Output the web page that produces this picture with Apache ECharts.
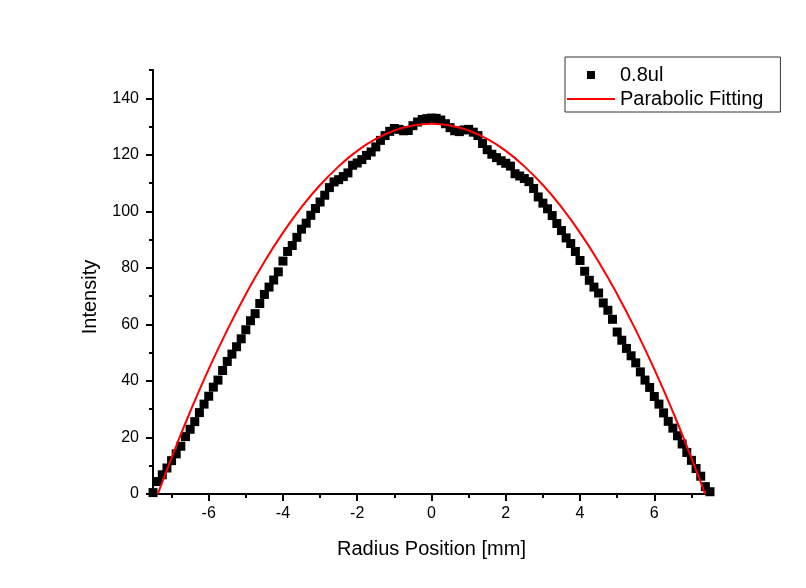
<!DOCTYPE html>
<html>
<head>
<meta charset="utf-8">
<script src="https://cdn.jsdelivr.net/npm/echarts@6/dist/echarts.min.js"></script>
<style>
  html, body { margin: 0; padding: 0; background: #fff; }
  #main { width: 806px; height: 588px; }
</style>
</head>
<body>
<div id="main"></div>
<script>
// radius position [mm] of each measured point
var radius = [-7.5,-7.375,-7.25,-7.125,-7,-6.875,-6.75,-6.625,-6.5,-6.375,-6.25,-6.125,-6,-5.875,-5.75,-5.625,-5.5,-5.375,-5.25,-5.125,
  -5,-4.875,-4.75,-4.625,-4.5,-4.375,-4.25,-4.125,-4,-3.875,-3.75,-3.625,-3.5,-3.375,-3.25,-3.125,-3,-2.875,-2.75,-2.625,
  -2.5,-2.375,-2.25,-2.125,-2,-1.875,-1.75,-1.625,-1.5,-1.375,-1.25,-1.125,-1,-0.875,-0.75,-0.625,-0.5,-0.375,-0.25,-0.125,
  0,
  0.125,0.25,0.375,0.5,0.625,0.75,0.875,1,1.125,1.25,1.375,1.5,1.625,1.75,1.875,2,2.125,2.25,2.375,2.5,
  2.625,2.75,2.875,3,3.125,3.25,3.375,3.5,3.625,3.75,3.875,4,4.125,4.25,4.375,4.5,4.625,4.75,4.875,5,
  5.125,5.25,5.375,5.5,5.625,5.75,5.875,6,6.125,6.25,6.375,6.5,6.625,6.75,6.875,7,7.125,7.25,7.375,7.5];

// measured intensity (0.8ul)
var intensity = [0.5,4.4,6.8,9.2,11.8,14.2,16.9,20.3,22.9,25.6,
  28.8,31.8,34.6,37.8,40.3,43.7,46.9,49.5,52.1,54.9,
  58.1,61.3,63.8,67.4,70.6,73.2,75.7,78.6,82.4,85.8,
  87.9,90.8,93.7,95.8,98.6,101.0,103.3,105.7,108.4,110.4,
  111.2,112.3,113.6,116.3,117.1,118.3,119.8,121.0,122.8,125.1,
  126.8,128.3,129.3,129.0,128.5,128.6,130.3,131.6,132.5,132.8,
  133.0,
  132.9,132.3,131.0,129.6,128.5,128.2,128.8,129.0,128.0,126.8,
  124.0,121.8,120.2,119.0,117.9,117.0,116.0,113.3,112.5,111.6,
  110.5,108.1,105.1,102.9,100.9,98.5,95.7,93.2,90.6,88.6,
  85.8,82.6,78.8,75.6,73.2,71.1,67.6,65.0,61.8,57.3,
  54.4,51.5,48.9,46.4,43.2,40.3,37.7,34.5,31.8,28.7,
  25.7,23.3,20.6,17.7,14.7,11.9,9.0,6.3,2.6,0.8];

// parabolic fitting curve
var fitX = [-7.37,-7,-6.5,-6,-5.5,-5,-4.5,-4,-3.5,-3,-2.5,-2,-1.5,-1,-0.5,0,0.5,1,1.5,2,2.5,3,3.5,4,4.5,5,5.5,6,6.5,7,7.37];
var fitY = [0,12.8,29.1,44.2,58.0,70.7,82.2,92.4,101.5,109.3,115.9,121.4,125.6,128.6,130.4,131,130.4,128.6,125.6,121.4,115.9,109.3,101.5,92.4,82.2,70.7,58.0,44.2,29.1,12.8,0];

var xMajor = [-6,-4,-2,0,2,4,6];
var xMinor = [-7,-5,-3,-1,1,3,5,7];
var yMajor = [0,20,40,60,80,100,120,140];
var yMinor = [10,30,50,70,90,110,130,150];

var font = 'Liberation Sans, Arial, sans-serif';

var pts = [];
for (var i = 0; i < radius.length; i++) pts.push([radius[i], intensity[i]]);
var fitPts = [];
for (var j = 0; j < fitX.length; j++) fitPts.push([fitX[j], fitY[j]]);

var chart = echarts.init(document.getElementById('main'));
var option = {
    backgroundColor: '#fff',
    animation: false,
    grid: { left: 153, right: 96, top: 70, bottom: 94, containLabel: false, outerBoundsMode: 'none' },
    legend: {
        orient: 'vertical',
        left: 565,
        top: 57,
        padding: [8, 17, 3, 2],
        itemWidth: 48,
        itemHeight: 8,
        itemGap: 4,
        borderColor: '#333',
        borderWidth: 1,
        textStyle: { fontFamily: font, fontSize: 20, color: '#000', lineHeight: 20 },
        data: [
            { name: '0.8ul', icon: 'path://M0,0h10v10h-10z' },
            { name: 'Parabolic Fitting', icon: 'path://M0,0h48v2h-48z' }
        ]
    },
    xAxis: [{
        type: 'value',
        min: -7.5,
        max: 7.5,
        name: 'Radius Position [mm]',
        nameLocation: 'middle',
        nameGap: 45,
        nameTextStyle: { fontFamily: font, fontSize: 20, color: '#000' },
        axisLine: { onZero: false, lineStyle: { color: '#000', width: 2 } },
        axisTick: { customValues: xMajor, length: 7, lineStyle: { color: '#000', width: 2 } },
        axisLabel: { customValues: xMajor, margin: 12, fontFamily: font, fontSize: 16, color: '#000' },
        splitLine: { show: false }
    }, {
        type: 'value',
        min: -7.5,
        max: 7.5,
        position: 'bottom',
        axisLine: { show: false, onZero: false },
        axisTick: { customValues: xMinor, length: 4, lineStyle: { color: '#000', width: 2 } },
        axisLabel: { show: false },
        splitLine: { show: false }
    }],
    yAxis: [{
        type: 'value',
        min: 0,
        max: 150,
        name: 'Intensity',
        nameLocation: 'middle',
        nameGap: 53,
        nameTextStyle: { fontFamily: font, fontSize: 20, color: '#000', padding: [0, 30, 0, 0] },
        axisLine: { show: true, onZero: false, lineStyle: { color: '#000', width: 2 } },
        axisTick: { show: true, customValues: yMajor, length: 7, lineStyle: { color: '#000', width: 2 } },
        axisLabel: { customValues: yMajor, margin: 14, fontFamily: font, fontSize: 16, color: '#000' },
        splitLine: { show: false }
    }, {
        type: 'value',
        min: 0,
        max: 150,
        position: 'left',
        axisLine: { show: false, onZero: false },
        axisTick: { show: true, customValues: yMinor, length: 4, lineStyle: { color: '#000', width: 2 } },
        axisLabel: { show: false },
        splitLine: { show: false }
    }],
    series: [
        {
            name: '0.8ul',
            type: 'scatter',
            symbol: 'rect',
            symbolSize: 9,
            itemStyle: { color: '#000', opacity: 1 },
            data: pts
        },
        {
            name: 'Parabolic Fitting',
            type: 'line',
            smooth: true,
            showSymbol: false,
            symbol: 'none',
            lineStyle: { color: '#ff0000', width: 2 },
            itemStyle: { color: '#ff0000' },
            data: fitPts
        }
    ]
};
chart.setOption(option);
</script>
</body>
</html>
